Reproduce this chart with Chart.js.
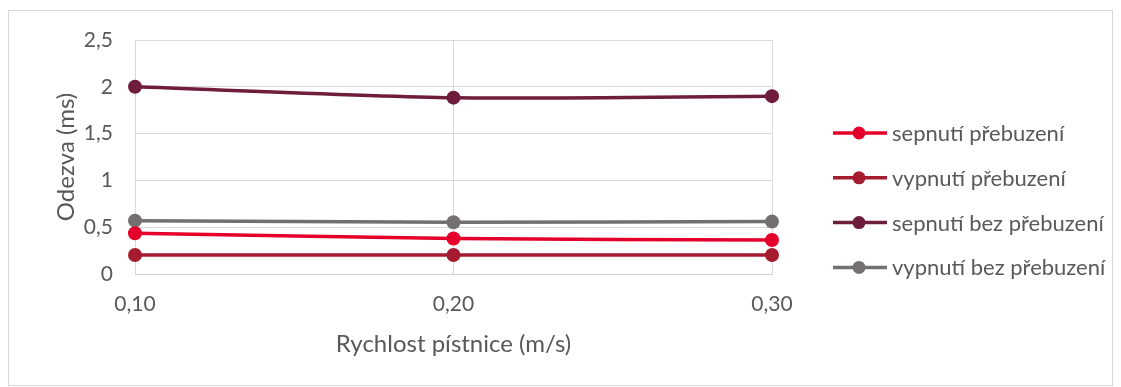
<!DOCTYPE html>
<html>
<head>
<meta charset="utf-8">
<script src="https://cdn.jsdelivr.net/npm/chart.js@4"></script>
<style>
  html, body { margin: 0; padding: 0; background: #ffffff; }
  #wrap { position: absolute; left: 0; top: 0; width: 1121px; height: 387px; }
</style>
</head>
<body>
<div id="wrap"><canvas id="c" width="1121" height="387"></canvas></div>
<script>
// Rychlost pístnice (m/s)
const categories = ['0,10', '0,20', '0,30'];

// Odezva (ms)
const sepnutiPrebuzeni = [0.435, 0.38, 0.363];
const vypnutiPrebuzeni = [0.203, 0.203, 0.203];
const sepnutiBezPrebuzeni = [2.0, 1.884, 1.9];
const vypnutiBezPrebuzeni = [0.57, 0.553, 0.56];

const seriesNames = ['sepnutí přebuzení', 'vypnutí přebuzení', 'sepnutí bez přebuzení', 'vypnutí bez přebuzení'];
const seriesColors = ['#E4002B', '#A51C30', '#6E1E3C', '#757070'];
const seriesValues = [sepnutiPrebuzeni, vypnutiPrebuzeni, sepnutiBezPrebuzeni, vypnutiBezPrebuzeni];

const yTickStep = 0.5;
const yMax = 2.5;

const FONT = 'Lato, "Open Sans", sans-serif';
const TEXT = '#595959';
const GRID = '#d9d9d9';

// Legend on the right: short line with a marker, then the series name
const sideLegend = {
  id: 'sideLegend',
  afterDraw(chart) {
    const ctx = chart.ctx;
    ctx.save();
    chart.data.datasets.forEach((ds, i) => {
      const y = 133 + i * 44.8;
      ctx.strokeStyle = ds.borderColor;
      ctx.lineWidth = 3.5;
      ctx.beginPath();
      ctx.moveTo(833, y);
      ctx.lineTo(887, y);
      ctx.stroke();
      ctx.fillStyle = ds.borderColor;
      ctx.beginPath();
      ctx.arc(859, y, 6.5, 0, Math.PI * 2);
      ctx.fill();
      ctx.fillStyle = TEXT;
      ctx.font = '22px ' + FONT;
      ctx.textBaseline = 'middle';
      ctx.textAlign = 'left';
      ctx.fillText(ds.label, 892, y + 1);
    });
    ctx.restore();
  }
};

// Thin frame round the whole chart
const frame = {
  id: 'frame',
  beforeDraw(chart) {
    const ctx = chart.ctx;
    ctx.save();
    ctx.strokeStyle = GRID;
    ctx.lineWidth = 1;
    ctx.strokeRect(8.5, 10.5, 1104, 375);
    ctx.restore();
  }
};

new Chart(document.getElementById('c'), {
  type: 'line',
  data: {
    labels: categories,
    datasets: seriesValues.map((vals, i) => ({
      label: seriesNames[i],
      data: vals,
      borderColor: seriesColors[i],
      backgroundColor: seriesColors[i],
      pointBackgroundColor: seriesColors[i],
      pointBorderColor: seriesColors[i],
      borderWidth: 3.5,
      pointRadius: 7,
      pointBorderWidth: 0,
      tension: 0.25,
      fill: false,
      clip: false
    }))
  },
  options: {
    responsive: false,
    animation: false,
    devicePixelRatio: 1,
    layout: { padding: { left: 0, top: 40, right: 349, bottom: 0 } },
    plugins: {
      legend: { display: false },
      tooltip: { enabled: false }
    },
    scales: {
      x: {
        type: 'category',
        offset: false,
        grid: { color: GRID, lineWidth: 1, drawTicks: false },
        border: { color: '#d0d0d0', width: 1 },
        ticks: {
          color: TEXT,
          font: { family: FONT, size: 21 },
          padding: 18,
          maxRotation: 0
        },
        title: {
          display: true,
          text: 'Rychlost pístnice (m/s)',
          color: TEXT,
          font: { family: FONT, size: 24 },
          padding: { top: 0, bottom: 28 }
        },
        afterFit(scale) { scale.height = 113; }
      },
      y: {
        min: 0,
        max: yMax,
        grid: { color: GRID, lineWidth: 1, drawTicks: false },
        border: { color: GRID, width: 1 },
        ticks: {
          stepSize: yTickStep,
          color: TEXT,
          font: { family: FONT, size: 21 },
          padding: 22,
          callback: (v) => String(Math.round(v * 10) / 10).replace('.', ',')
        },
        title: {
          display: true,
          text: 'Odezva (ms)',
          color: TEXT,
          font: { family: FONT, size: 24 },
          padding: { top: 52, bottom: 0 }
        },
        afterFit(scale) { scale.width = 135; }
      }
    }
  },
  plugins: [frame, sideLegend]
});
</script>
</body>
</html>
